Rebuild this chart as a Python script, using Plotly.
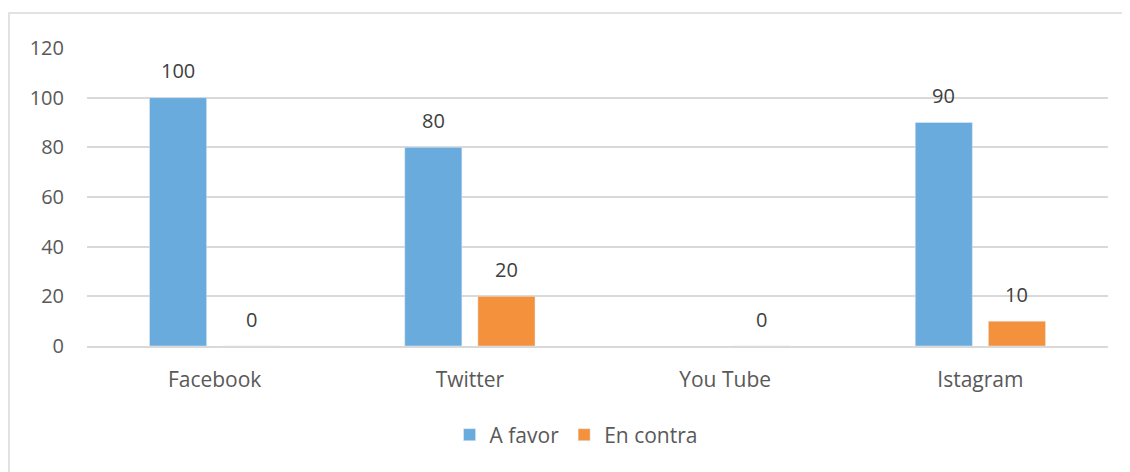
import plotly.graph_objects as go

categories = ["Facebook", "Twitter", "You Tube", "Istagram"]
a_favor = [100, 80, None, 90]
en_contra = [0, 20, 0, 10]
y_ticks = [0, 20, 40, 60, 80, 100, 120]

BLUE = "#6AABDD"
ORANGE = "#F3913D"
FONT = "Open Sans"
FS = 20

fig = go.Figure()
fig.add_trace(go.Bar(name="A favor", x=categories, y=a_favor, marker_color=BLUE,
                     hoverinfo="skip"))
fig.add_trace(go.Bar(name="En contra", x=categories, y=en_contra, marker_color=ORANGE,
                     hoverinfo="skip"))

# data labels above bars
for vals, shift in ((a_favor, -36.5), (en_contra, 36.5)):
    for c, v in zip(categories, vals):
        if v is None:
            continue
        fig.add_annotation(x=c, y=v, text=str(v), showarrow=False, xshift=shift,
                           yshift=27, yanchor="middle",
                           font=dict(family=FONT, size=FS, color="#404040"))

fig.update_layout(
    width=1122, height=464,
    margin=dict(l=79, r=22, t=40, b=126),
    paper_bgcolor="white", plot_bgcolor="white",
    barmode="group", bargap=0.427, bargroupgap=0.219,
    font=dict(family=FONT, size=FS, color="#595959"),
    legend=dict(orientation="h", x=0.479, xanchor="center", y=-0.2987, yanchor="middle",
                font=dict(family=FONT, size=21, color="#595959"), itemwidth=30),
    showlegend=True,
    shapes=[dict(type="rect", xref="paper", yref="paper", x0=-0.0764, x1=1.2,
                 y0=1.1174, y1=-0.6, line=dict(color="#D9D9D9", width=1.5),
                 fillcolor="rgba(0,0,0,0)", layer="below")],
)
fig.update_yaxes(range=[0, 120], tickvals=y_ticks, showgrid=True, gridcolor="#D9D9D9",
                 gridwidth=1.5, zeroline=False, showline=False, ticks="",
                 ticklabelstandoff=22, tickfont=dict(size=FS, color="#595959"),
                 fixedrange=True)
fig.update_xaxes(showline=True, linecolor="#D9D9D9", linewidth=1.5, ticks="",
                 ticklabelstandoff=14, tickfont=dict(size=21, color="#595959"),
                 fixedrange=True)

fig.write_html("out.html")
